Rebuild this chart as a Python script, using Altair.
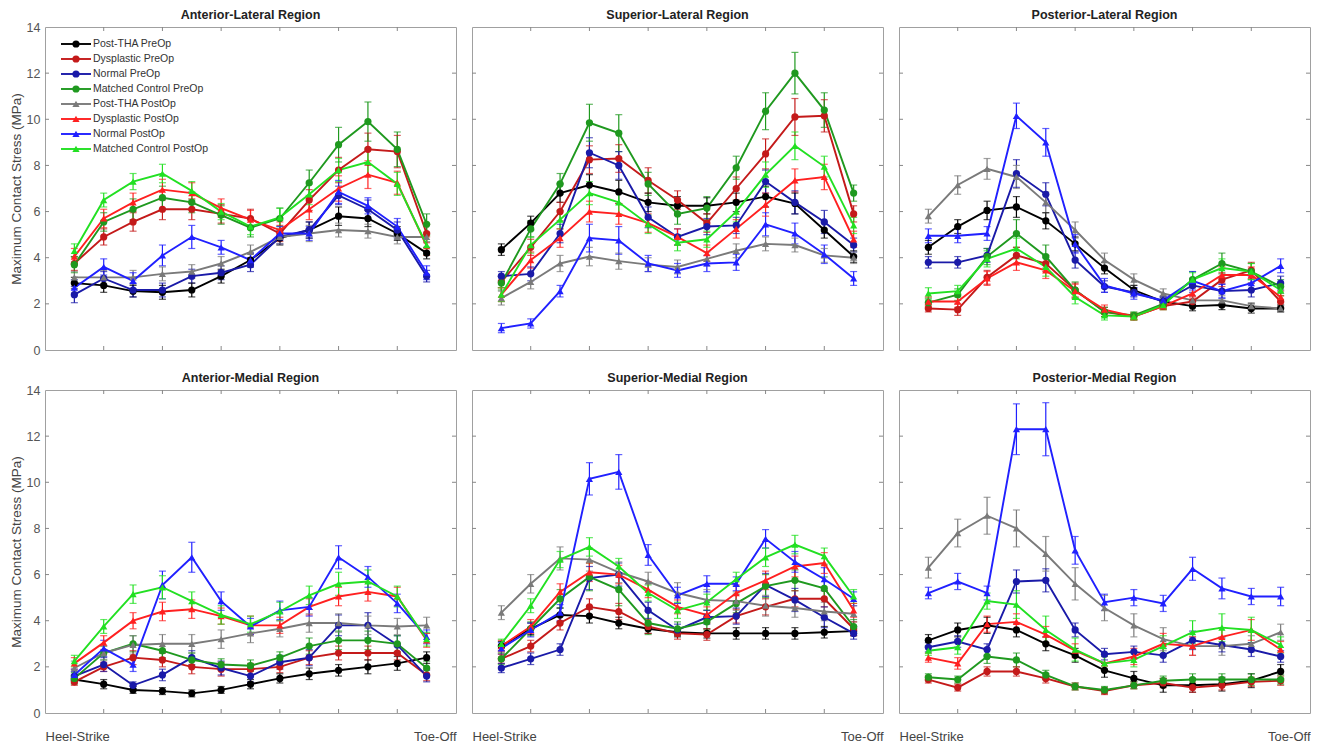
import altair as alt
import pandas as pd

series = ["Post-THA PreOp", "Dysplastic PreOp", "Normal PreOp", "Matched Control PreOp",
          "Post-THA PostOp", "Dysplastic PostOp", "Normal PostOp", "Matched Control PostOp"]
colors = ["#000000", "#c41a1a", "#1a1aa8", "#1f991f", "#7a7a7a", "#ff2020", "#2020ff", "#22e022"]
shapes = ["circle", "circle", "circle", "circle",
          "triangle-up", "triangle-up", "triangle-up", "triangle-up"]
gait_points = [1, 2, 3, 4, 5, 6, 7, 8, 9, 10, 11, 12, 13]
tick_positions = [2, 4, 6, 8, 10, 12]
y_labels = [0, 2, 4, 6, 8, 10, 12, 14]

anterior_lateral = [
    [2.9, 2.8, 2.55, 2.5, 2.6, 3.2, 3.9, 4.85, 5.2, 5.8, 5.7, 5.05, 4.2],
    [3.75, 4.9, 5.55, 6.1, 6.1, 5.9, 5.7, 5.05, 6.5, 7.8, 8.7, 8.6, 5.05],
    [2.4, 3.1, 2.6, 2.6, 3.2, 3.35, 3.7, 4.9, 5.2, 6.7, 6.1, 5.2, 3.2],
    [3.7, 5.55, 6.1, 6.6, 6.4, 5.85, 5.3, 5.7, 7.25, 8.9, 9.9, 8.7, 5.45],
    [3.15, 3.15, 3.15, 3.3, 3.4, 3.75, 4.25, 4.9, 5.05, 5.2, 5.15, 4.9, 4.9],
    [4.05, 5.7, 6.4, 6.95, 6.8, 6.15, 5.65, 5.2, 6.1, 7.0, 7.6, 7.25, 4.5],
    [2.7, 3.6, 3.0, 4.1, 4.9, 4.45, 3.9, 5.05, 5.05, 6.85, 6.25, 5.35, 3.35],
    [4.3, 6.5, 7.3, 7.65, 6.9, 6.0, 5.35, 5.75, 6.75, 7.8, 8.15, 7.2, 4.55],
]
anterior_lateral_err = [
    [0.25, 0.3, 0.25, 0.3, 0.3, 0.3, 0.3, 0.3, 0.35, 0.4, 0.35, 0.3, 0.25],
    [0.3, 0.35, 0.4, 0.45, 0.45, 0.4, 0.4, 0.35, 0.45, 0.55, 0.7, 0.7, 0.4],
    [0.35, 0.3, 0.3, 0.3, 0.3, 0.3, 0.3, 0.3, 0.35, 0.4, 0.4, 0.35, 0.25],
    [0.35, 0.4, 0.45, 0.5, 0.45, 0.4, 0.4, 0.45, 0.55, 0.75, 0.85, 0.75, 0.45],
    [0.25, 0.3, 0.3, 0.3, 0.3, 0.3, 0.3, 0.3, 0.35, 0.3, 0.3, 0.3, 0.2],
    [0.35, 0.4, 0.4, 0.45, 0.45, 0.4, 0.4, 0.35, 0.45, 0.55, 0.6, 0.5, 0.4],
    [0.35, 0.35, 0.35, 0.45, 0.5, 0.3, 0.3, 0.3, 0.3, 0.5, 0.35, 0.35, 0.3],
    [0.3, 0.3, 0.35, 0.4, 0.4, 0.35, 0.35, 0.4, 0.45, 0.5, 0.6, 0.5, 0.4],
]

superior_lateral = [
    [4.35, 5.5, 6.8, 7.15, 6.85, 6.4, 6.25, 6.25, 6.4, 6.65, 6.35, 5.2, 4.05],
    [2.95, 4.45, 6.0, 8.25, 8.3, 7.35, 6.5, 5.5, 7.0, 8.5, 10.1, 10.15, 5.9],
    [3.2, 3.3, 5.05, 8.55, 8.0, 5.75, 4.9, 5.35, 5.4, 7.3, 6.4, 5.55, 4.55],
    [2.9, 5.25, 7.2, 9.85, 9.4, 7.2, 5.9, 6.15, 7.9, 10.35, 12.0, 10.4, 6.8],
    [2.25, 2.95, 3.75, 4.05, 3.85, 3.7, 3.6, 3.95, 4.3, 4.6, 4.55, 4.1, 4.0],
    [2.4, 3.9, 4.85, 6.0, 5.9, 5.5, 4.9, 4.2, 5.25, 6.3, 7.35, 7.5, 4.8],
    [0.95, 1.15, 2.55, 4.85, 4.75, 3.75, 3.45, 3.75, 3.8, 5.45, 5.05, 4.15, 3.1],
    [2.4, 4.55, 5.65, 6.8, 6.4, 5.45, 4.65, 4.8, 6.0, 7.6, 8.85, 7.95, 5.4],
]
superior_lateral_err = [
    [0.25, 0.3, 0.4, 0.45, 0.5, 0.4, 0.4, 0.35, 0.4, 0.45, 0.45, 0.35, 0.25],
    [0.25, 0.35, 0.4, 0.6, 0.6, 0.55, 0.4, 0.4, 0.5, 0.65, 0.8, 0.7, 0.35],
    [0.2, 0.3, 0.4, 0.65, 0.6, 0.45, 0.35, 0.35, 0.35, 0.5, 0.5, 0.5, 0.3],
    [0.3, 0.35, 0.45, 0.8, 0.8, 0.5, 0.45, 0.5, 0.5, 0.8, 0.9, 0.75, 0.35],
    [0.3, 0.3, 0.35, 0.4, 0.35, 0.3, 0.3, 0.3, 0.3, 0.3, 0.3, 0.3, 0.25],
    [0.3, 0.35, 0.4, 0.45, 0.45, 0.4, 0.35, 0.35, 0.4, 0.5, 0.5, 0.55, 0.35],
    [0.2, 0.2, 0.25, 0.6, 0.6, 0.35, 0.3, 0.35, 0.35, 0.5, 0.45, 0.4, 0.3],
    [0.3, 0.35, 0.4, 0.5, 0.5, 0.4, 0.35, 0.35, 0.45, 0.55, 0.6, 0.45, 0.35],
]

posterior_lateral = [
    [4.45, 5.35, 6.05, 6.2, 5.6, 4.6, 3.55, 2.6, 2.1, 1.9, 1.95, 1.8, 1.8],
    [1.8, 1.75, 3.15, 4.1, 3.75, 2.6, 1.65, 1.45, 1.9, 2.1, 3.05, 3.45, 2.1],
    [3.8, 3.8, 4.1, 7.65, 6.75, 3.9, 2.75, 2.5, 2.1, 2.8, 2.55, 2.6, 2.9],
    [2.05, 2.4, 4.05, 5.05, 4.05, 2.6, 1.65, 1.5, 2.0, 3.05, 3.75, 3.4, 2.75],
    [5.8, 7.15, 7.85, 7.5, 6.4, 5.2, 3.9, 3.05, 2.45, 2.15, 2.15, 1.9, 1.8],
    [2.1, 2.1, 3.1, 3.8, 3.45, 2.55, 1.75, 1.45, 1.9, 2.45, 3.25, 3.25, 2.3],
    [4.95, 4.95, 5.05, 10.15, 9.0, 4.6, 2.8, 2.45, 2.15, 3.0, 2.55, 2.9, 3.65],
    [2.45, 2.55, 3.95, 4.4, 3.6, 2.3, 1.5, 1.45, 1.95, 3.05, 3.55, 3.4, 2.6],
]
posterior_lateral_err = [
    [0.3, 0.3, 0.4, 0.45, 0.35, 0.3, 0.25, 0.2, 0.2, 0.2, 0.2, 0.2, 0.15],
    [0.15, 0.25, 0.3, 0.35, 0.35, 0.3, 0.2, 0.15, 0.15, 0.2, 0.3, 0.35, 0.25],
    [0.25, 0.25, 0.3, 0.6, 0.5, 0.35, 0.25, 0.2, 0.2, 0.3, 0.3, 0.3, 0.3],
    [0.2, 0.25, 0.35, 0.6, 0.5, 0.35, 0.2, 0.15, 0.2, 0.35, 0.45, 0.35, 0.3],
    [0.3, 0.4, 0.45, 0.5, 0.45, 0.35, 0.3, 0.25, 0.2, 0.2, 0.2, 0.15, 0.15],
    [0.2, 0.25, 0.3, 0.35, 0.35, 0.3, 0.2, 0.15, 0.15, 0.25, 0.35, 0.35, 0.25],
    [0.3, 0.3, 0.3, 0.55, 0.6, 0.4, 0.3, 0.25, 0.2, 0.4, 0.3, 0.3, 0.3],
    [0.25, 0.25, 0.35, 0.45, 0.4, 0.3, 0.2, 0.15, 0.2, 0.3, 0.4, 0.35, 0.25],
]

anterior_medial = [
    [1.45, 1.25, 1.0, 0.95, 0.85, 1.0, 1.25, 1.5, 1.7, 1.85, 2.0, 2.15, 2.4],
    [1.35, 2.0, 2.4, 2.3, 2.0, 1.9, 1.9, 2.0, 2.4, 2.6, 2.6, 2.6, 1.65],
    [1.6, 2.1, 1.2, 1.65, 2.4, 1.95, 1.6, 2.2, 2.4, 3.8, 3.8, 2.95, 1.6],
    [1.5, 2.6, 3.0, 2.7, 2.3, 2.1, 2.05, 2.4, 2.9, 3.15, 3.15, 3.0, 1.95],
    [1.95, 2.6, 2.95, 3.0, 3.0, 3.2, 3.45, 3.65, 3.9, 3.9, 3.8, 3.75, 3.8],
    [2.15, 3.05, 4.0, 4.4, 4.5, 4.2, 3.8, 3.8, 4.6, 5.05, 5.25, 5.05, 3.15],
    [1.65, 2.8, 2.1, 5.55, 6.75, 4.85, 3.75, 4.45, 4.6, 6.75, 5.9, 4.75, 3.3],
    [2.25, 3.75, 5.15, 5.45, 4.85, 4.25, 3.85, 4.4, 5.1, 5.6, 5.7, 5.05, 3.2],
]
anterior_medial_err = [
    [0.15, 0.2, 0.15, 0.15, 0.15, 0.15, 0.2, 0.2, 0.25, 0.25, 0.3, 0.3, 0.25],
    [0.15, 0.2, 0.3, 0.3, 0.3, 0.3, 0.25, 0.25, 0.3, 0.3, 0.3, 0.3, 0.25],
    [0.2, 0.3, 0.15, 0.25, 0.3, 0.3, 0.25, 0.3, 0.35, 0.45, 0.55, 0.4, 0.25],
    [0.25, 0.3, 0.35, 0.3, 0.3, 0.25, 0.25, 0.25, 0.35, 0.4, 0.4, 0.35, 0.3],
    [0.3, 0.3, 0.4, 0.4, 0.4, 0.4, 0.4, 0.35, 0.4, 0.4, 0.4, 0.35, 0.35],
    [0.25, 0.3, 0.35, 0.4, 0.4, 0.35, 0.4, 0.35, 0.35, 0.4, 0.4, 0.4, 0.3],
    [0.25, 0.35, 0.3, 0.6, 0.65, 0.4, 0.35, 0.4, 0.4, 0.5, 0.45, 0.4, 0.3],
    [0.25, 0.3, 0.4, 0.5, 0.4, 0.4, 0.35, 0.4, 0.4, 0.5, 0.5, 0.45, 0.3],
]

superior_medial = [
    [2.9, 3.65, 4.25, 4.2, 3.9, 3.65, 3.5, 3.45, 3.45, 3.45, 3.45, 3.5, 3.55],
    [2.35, 2.9, 3.9, 4.6, 4.4, 3.75, 3.45, 3.4, 4.2, 4.6, 4.95, 4.95, 3.65],
    [1.95, 2.35, 2.75, 5.85, 6.0, 4.45, 3.6, 4.15, 4.2, 5.55, 4.9, 4.15, 3.45],
    [2.35, 3.65, 4.95, 5.9, 5.35, 3.9, 3.65, 3.95, 4.75, 5.5, 5.75, 5.4, 3.75],
    [4.35, 5.6, 6.7, 6.65, 6.1, 5.7, 5.2, 4.9, 4.85, 4.65, 4.55, 4.4, 4.3],
    [2.9, 3.75, 5.25, 6.1, 6.0, 5.35, 4.6, 4.25, 5.2, 5.75, 6.35, 6.5, 4.45],
    [2.8, 3.6, 4.35, 10.15, 10.45, 6.85, 5.1, 5.6, 5.6, 7.55, 6.55, 5.8, 4.95],
    [3.0, 4.65, 6.65, 7.2, 6.35, 5.2, 4.45, 4.8, 5.8, 6.75, 7.3, 6.8, 5.05],
]
superior_medial_err = [
    [0.2, 0.25, 0.3, 0.3, 0.25, 0.2, 0.2, 0.2, 0.25, 0.25, 0.25, 0.25, 0.2],
    [0.2, 0.25, 0.3, 0.35, 0.35, 0.3, 0.25, 0.25, 0.3, 0.35, 0.35, 0.35, 0.3],
    [0.2, 0.25, 0.25, 0.5, 0.5, 0.35, 0.25, 0.3, 0.35, 0.5, 0.5, 0.45, 0.25],
    [0.25, 0.3, 0.4, 0.6, 0.7, 0.5, 0.3, 0.35, 0.4, 0.5, 0.45, 0.5, 0.3],
    [0.3, 0.4, 0.5, 0.5, 0.45, 0.4, 0.45, 0.45, 0.4, 0.45, 0.4, 0.4, 0.35],
    [0.25, 0.3, 0.35, 0.4, 0.4, 0.35, 0.3, 0.35, 0.35, 0.4, 0.45, 0.45, 0.3],
    [0.25, 0.3, 0.35, 0.7, 0.75, 0.45, 0.35, 0.35, 0.3, 0.4, 0.45, 0.5, 0.3],
    [0.2, 0.3, 0.35, 0.4, 0.35, 0.35, 0.35, 0.35, 0.3, 0.4, 0.4, 0.35, 0.3],
]

posterior_medial = [
    [3.15, 3.6, 3.8, 3.6, 3.0, 2.5, 1.85, 1.5, 1.2, 1.2, 1.25, 1.4, 1.8],
    [1.45, 1.1, 1.8, 1.8, 1.5, 1.15, 0.95, 1.2, 1.3, 1.1, 1.2, 1.35, 1.4],
    [2.85, 3.1, 2.75, 5.7, 5.75, 3.6, 2.55, 2.65, 2.5, 3.15, 2.95, 2.75, 2.45],
    [1.55, 1.45, 2.45, 2.3, 1.65, 1.15, 1.0, 1.2, 1.4, 1.45, 1.45, 1.45, 1.45],
    [6.3, 7.8, 8.55, 8.0, 6.9, 5.6, 4.55, 3.8, 3.2, 2.9, 2.9, 3.0, 3.5],
    [2.4, 2.15, 3.85, 3.95, 3.4, 2.7, 2.15, 2.45, 3.0, 2.9, 3.3, 3.6, 2.75],
    [5.2, 5.7, 5.2, 12.3, 12.3, 7.05, 4.8, 5.0, 4.75, 6.25, 5.4, 5.05, 5.05],
    [2.7, 2.85, 4.85, 4.7, 3.6, 2.75, 2.15, 2.3, 2.9, 3.5, 3.7, 3.6, 2.95],
]
posterior_medial_err = [
    [0.25, 0.3, 0.35, 0.3, 0.3, 0.3, 0.3, 0.3, 0.3, 0.3, 0.3, 0.3, 0.3],
    [0.15, 0.15, 0.2, 0.2, 0.2, 0.15, 0.15, 0.15, 0.2, 0.2, 0.2, 0.2, 0.2],
    [0.2, 0.25, 0.25, 0.5, 0.5, 0.3, 0.25, 0.25, 0.3, 0.4, 0.3, 0.3, 0.25],
    [0.15, 0.15, 0.3, 0.3, 0.2, 0.15, 0.15, 0.15, 0.2, 0.25, 0.25, 0.25, 0.2],
    [0.45, 0.6, 0.8, 0.8, 0.75, 0.7, 0.55, 0.5, 0.5, 0.4, 0.4, 0.35, 0.35],
    [0.2, 0.25, 0.35, 0.35, 0.35, 0.3, 0.3, 0.35, 0.45, 0.4, 0.4, 0.45, 0.35],
    [0.25, 0.35, 0.3, 1.1, 1.15, 0.6, 0.35, 0.35, 0.35, 0.5, 0.45, 0.35, 0.4],
    [0.2, 0.3, 0.35, 0.6, 0.6, 0.5, 0.3, 0.3, 0.45, 0.5, 0.6, 0.55, 0.35],
]

W, H = 411, 323
FONT = "Liberation Sans"

color_enc = alt.Color("series:N", scale=alt.Scale(domain=series, range=colors), legend=None)
shape_enc = alt.Shape("series:N", scale=alt.Scale(domain=series, range=shapes), legend=None)


def panel(title, vals, errs, left, bottom, legend):
    rows = []
    for si, name in enumerate(series):
        for i, x in enumerate(gait_points):
            v = vals[si][i]
            e = errs[si][i]
            rows.append({"series": name, "x": x, "v": v, "lo": v - e, "hi": v + e})
    df = pd.DataFrame(rows)
    xs = alt.Scale(domain=[0, 14], nice=False, zero=False)
    ys = alt.Scale(domain=[0, 14], nice=False, zero=False)

    if bottom:
        xaxis = alt.Axis(values=[0, 14], labelFlush=True,
                         labelExpr="datum.value == 0 ? 'Heel-Strike' : 'Toe-Off'",
                         ticks=False, domain=False, grid=False, title=None,
                         labelFontSize=13, labelColor="#444", labelPadding=17)
    else:
        xaxis = None
    if left:
        yaxis = alt.Axis(values=y_labels, ticks=False, domain=False, grid=False,
                         title="Maximum Contact Stress (MPa)", labelFontSize=12.5,
                         labelColor="#555", labelPadding=5, titleFontSize=13.5,
                         titleFontWeight="normal", titleColor="#444", titlePadding=3)
    else:
        yaxis = None

    base = alt.Chart(df)
    xn = alt.X("x:Q", scale=xs, axis=xaxis)
    bars = base.mark_rule(strokeWidth=1.2).encode(
        x=xn, y=alt.Y("lo:Q", scale=ys, axis=yaxis), y2="hi:Q", color=color_enc)
    cap_lo = base.mark_tick(orient="horizontal", size=7, thickness=1.2).encode(
        x=xn, y=alt.Y("lo:Q", scale=ys, axis=yaxis), color=color_enc)
    cap_hi = base.mark_tick(orient="horizontal", size=7, thickness=1.2).encode(
        x=xn, y=alt.Y("hi:Q", scale=ys, axis=yaxis), color=color_enc)
    line = base.mark_line(strokeWidth=1.9).encode(
        x=xn, y=alt.Y("v:Q", scale=ys, axis=yaxis), color=color_enc)
    pts = base.mark_point(filled=True, size=52, opacity=1).encode(
        x=xn, y=alt.Y("v:Q", scale=ys, axis=yaxis), color=color_enc, shape=shape_enc)

    tdf = pd.DataFrame({"t": tick_positions})
    tc = alt.Chart(tdf)
    tx = alt.X("t:Q", scale=xs, axis=xaxis)
    ty = alt.Y("t:Q", scale=ys, axis=yaxis)
    tb = tc.mark_rule(color="#888", strokeWidth=1).encode(x=tx, y=alt.value(H), y2=alt.value(H - 4))
    tt = tc.mark_rule(color="#888", strokeWidth=1).encode(x=tx, y=alt.value(0), y2=alt.value(4))
    tl = tc.mark_rule(color="#888", strokeWidth=1).encode(y=ty, x=alt.value(0), x2=alt.value(4))
    tr = tc.mark_rule(color="#888", strokeWidth=1).encode(y=ty, x=alt.value(W), x2=alt.value(W - 4))

    data_layer = alt.layer(tb, tt, tl, tr, bars, cap_lo, cap_hi, line, pts)

    if legend:
        ldf = pd.DataFrame({"series": series, "idx": list(range(len(series)))})
        ly = alt.Y("idx:Q", scale=alt.Scale(domain=[-1.133, 20.4], reverse=True, nice=False, zero=False),
                   axis=None)
        lc = alt.Chart(ldf)
        lrule = lc.mark_rule(strokeWidth=1.9).encode(x=alt.value(16), x2=alt.value(46), y=ly, color=color_enc)
        lpt = lc.mark_point(filled=True, size=52, opacity=1).encode(
            x=alt.value(31), y=ly, color=color_enc, shape=shape_enc)
        ltxt = lc.mark_text(align="left", baseline="middle", fontSize=10.5, color="#333", font=FONT).encode(
            x=alt.value(48), y=ly, text="series:N")
        ch = alt.layer(data_layer, alt.layer(lrule, lpt, ltxt)).resolve_scale(y="independent")
    else:
        ch = data_layer

    return ch.properties(
        width=W, height=H,
        title=alt.Title(title, fontSize=12.5, fontWeight="bold", color="#222",
                        offset=0 if left else 5, font=FONT),
    )


p1 = panel("Anterior-Lateral Region", anterior_lateral, anterior_lateral_err, True, False, True)
p2 = panel("Superior-Lateral Region", superior_lateral, superior_lateral_err, False, False, False)
p3 = panel("Posterior-Lateral Region", posterior_lateral, posterior_lateral_err, False, False, False)
p4 = panel("Anterior-Medial Region", anterior_medial, anterior_medial_err, True, True, False)
p5 = panel("Superior-Medial Region", superior_medial, superior_medial_err, False, True, False)
p6 = panel("Posterior-Medial Region", posterior_medial, posterior_medial_err, False, True, False)

row1 = alt.hconcat(p1, p2, p3, spacing=14)
row2 = alt.hconcat(p4, p5, p6, spacing=14)

chart = alt.vconcat(row1, row2, spacing=14).properties(
    padding={"left": 0, "top": 0, "right": 0, "bottom": 0},
    background="white",
).configure(font=FONT).configure_view(stroke="#a0a0a0", strokeWidth=1)

chart.save("out.html", embed_options={"renderer": "svg", "actions": False})
